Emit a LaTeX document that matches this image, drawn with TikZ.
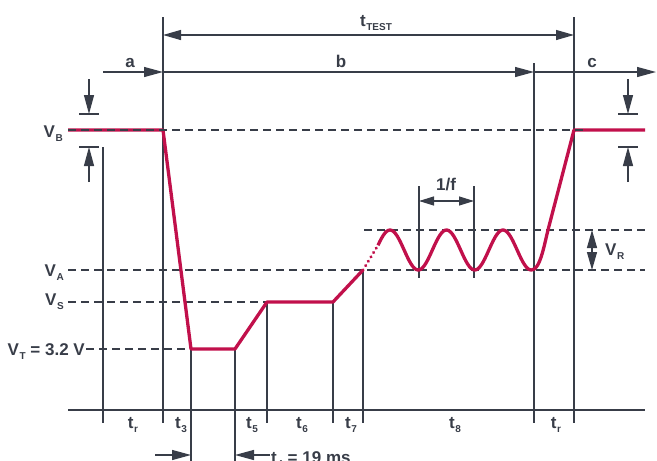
\documentclass[tikz,border=0pt]{standalone}
\usepackage{fontspec}
\setmainfont{Liberation Sans}
\usetikzlibrary{arrows.meta}
\definecolor{ink}{HTML}{383D48}
\definecolor{wavered}{HTML}{C1104B}
\newcommand{\subl}[1]{\kern0.6pt\raisebox{-4.5pt}{\fontsize{10}{11}\selectfont #1}}

\begin{document}
\begin{tikzpicture}[x=1pt, y=-1pt,
  line/.style={draw=ink, line width=1.3pt},
  axis/.style={draw=ink, line width=2.4pt},
  level/.style={draw=ink, line width=1.3pt, dash pattern=on 8pt off 5pt},
  wave/.style={draw=wavered, line width=3.3pt, line join=round},
  dim/.style={line, -{Triangle[length=19pt,width=10pt]}},
  dimboth/.style={line, {Triangle[length=18pt,width=10pt]}-{Triangle[length=18pt,width=10pt]}},
  dimsmall/.style={line, {Triangle[length=15pt,width=9pt]}-{Triangle[length=15pt,width=9pt]}},
  lbl/.style={text=ink, font=\fontsize{17}{19}\selectfont\bfseries, inner sep=0pt}
]
  \clip (0,0) rectangle (657,461);

  % ===== Time grid =====
  \foreach \x/\ya/\yb in {103/147/423, 163/17/423, 191/349/470, 235/349/470,
                          267/302/423, 333/302/423, 363/270/423, 534/63/423,
                          574/17/423, 419/186/278, 474/186/278}
    \draw[line] (\x,\ya) -- (\x,\yb);
  \draw[axis] (68,410) -- (645,410);

  % ===== Voltage levels =====
  \draw[level] (68,270) -- (645,270);
  \draw[level] (68,302) -- (267,302);
  \draw[level] (86,349) -- (191,349);
  \draw[level] (364,230) -- (645,230);

  % ===== Waveform =====
  \coordinate (w0) at (68,130);
  \coordinate (w1) at (163,130);
  \coordinate (w2) at (191,349);
  \coordinate (w3) at (235,349);
  \coordinate (w4) at (267,302);
  \coordinate (w5) at (333,302);
  \coordinate (w6) at (363,270);
  \coordinate (w7) at (378,245.3);
  \coordinate (w8) at (574,130);
  \coordinate (w9) at (645,130);
  \draw[wave] (w0) -- (w1) -- (w2) -- (w3) -- (w4) -- (w5) -- (w6);
  \draw[wave, line cap=round, dash pattern=on 0.1pt off 5pt] (w6) -- (w7);
  \draw[wave] plot[domain=378:531.5, samples=90, smooth] (\x,{250-20*cos(6.3717*(\x-390))})
    .. controls (540,270) and (544,246) .. (548,230) -- (w8) -- (w9);
  \draw[level] (68,130) -- (587,130);

  % ===== Dimension arrows =====
  \coordinate (ts) at (163,35);
  \coordinate (te) at (574,35);
  \draw[dimboth] (ts) -- (te);
  \coordinate (a0) at (103,72);
  \coordinate (a1) at (163,72);
  \coordinate (b1) at (534,72);
  \coordinate (c1) at (656,72);
  \draw[dim] (a0) -- (a1);
  \draw[dim] (a1) -- (b1);
  \draw[dim] (b1) -- (c1);
  \foreach \x in {89,628} {
    \draw[line] (\x-10,114) -- (\x+10,114);
    \draw[line] (\x-10,147) -- (\x+10,147);
    \draw[dim] (\x,79) -- (\x,114);
    \draw[dim] (\x,182) -- (\x,147);
  }
  \coordinate (f0) at (419,201);
  \coordinate (f1) at (474,201);
  \draw[dimsmall] (f0) -- (f1);
  \coordinate (r0) at (592,230);
  \coordinate (r1) at (592,270);
  \draw[dimboth] (r0) -- (r1);
  \coordinate (u0) at (155,455);
  \coordinate (u1) at (191,455);
  \coordinate (v0) at (270,455);
  \coordinate (v1) at (235,455);
  \draw[dim] (u0) -- (u1);
  \draw[dim] (v0) -- (v1);

  % ===== Labels =====
  \node[lbl, anchor=base east] (lVB) at (63,137) {V\subl{B}};
  \node[lbl, anchor=base east] (lVA) at (64,276) {V\subl{A}};
  \node[lbl, anchor=base east] (lVS) at (64,305) {V\subl{S}};
  \node[lbl, anchor=base east] (lVT) at (85,355) {V\subl{T} = 3.2 V};
  \node[lbl, anchor=base west] (lVR) at (605,255) {V\subl{R}};
  \node[lbl, anchor=base] (lTT) at (376,26) {t\subl{TEST}};
  \node[lbl, anchor=base] (la) at (130,67) {a};
  \node[lbl, anchor=base] (lb) at (341,67) {b};
  \node[lbl, anchor=base] (lc) at (592,67) {c};
  \node[lbl, anchor=base] (lf) at (446,190) {1/f};
  \foreach \x/\s [count=\i] in {133/r, 181/3, 252/5, 302/6, 351/7, 455/8, 556/r}
    \node[lbl, anchor=base] (lt\i) at (\x,428) {t\subl{\s}};
  \node[lbl, anchor=base west] (lt4) at (271,463) {t\subl{4} = 19 ms};
\end{tikzpicture}
\end{document}
